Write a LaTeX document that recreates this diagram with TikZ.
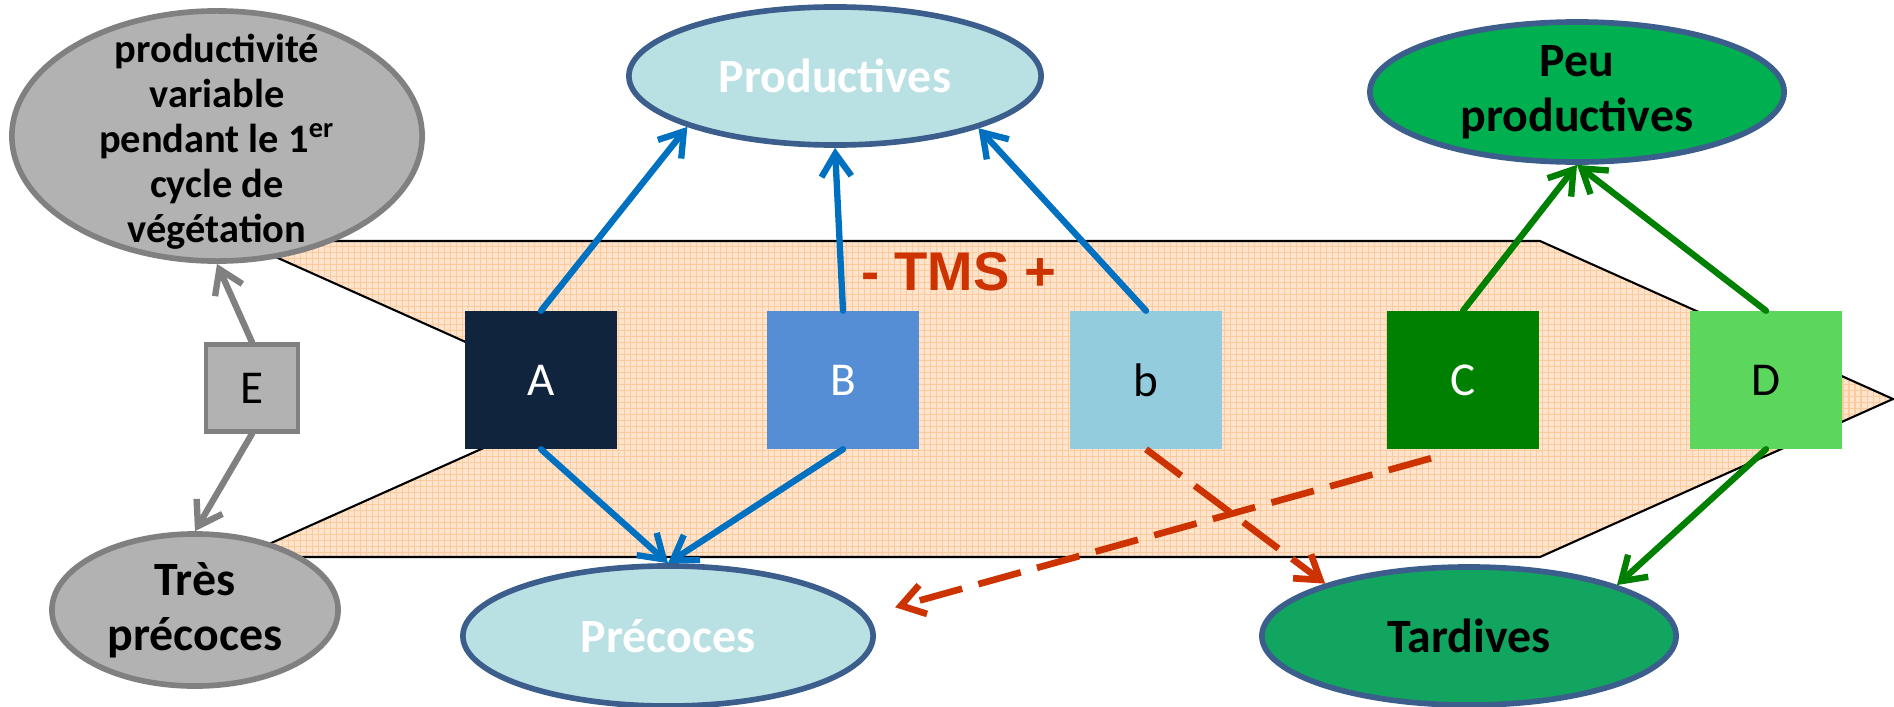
\documentclass[tikz,border=0pt]{standalone}
\usepackage{fontspec}
\setmainfont{Carlito}
\newfontfamily\arialfont{Liberation Sans}
\usetikzlibrary{shapes.geometric,arrows.meta,calc}
\definecolor{navy}{HTML}{11243E}
\definecolor{boxB}{HTML}{558ED5}
\definecolor{boxb}{HTML}{93CDDD}
\definecolor{boxC}{HTML}{008000}
\definecolor{boxD}{HTML}{5CD65C}
\definecolor{greyfill}{HTML}{B2B2B2}
\definecolor{greyline}{HTML}{808080}
\definecolor{lightblue}{HTML}{B9E0E3}
\definecolor{ellborder}{HTML}{3B5E8C}
\definecolor{peugreen}{HTML}{00B050}
\definecolor{tardgreen}{HTML}{12A55F}
\definecolor{arrowblue}{HTML}{0070C0}
\definecolor{arrowgreen}{HTML}{008000}
\definecolor{tmsred}{HTML}{CC3300}
\definecolor{peach}{HTML}{FEE4CD}
\definecolor{peachgrid}{HTML}{FBCB9E}
\tikzset{
  colbox/.style={rectangle, minimum width=1.52cm, minimum height=1.37cm, inner sep=0pt,
    font=\fontsize{13.4}{16}\selectfont},
  ell/.style={ellipse, inner sep=0pt, line width=1.6pt, draw=ellborder},
  ell text/.style={align=center, font=\bfseries\fontsize{13.6}{15.5}\selectfont},
  arr/.style={line width=1.8pt, line cap=round, -{Straight Barb[length=6.5pt,width=8.5pt]}},
  dasharr/.style={arr, line width=1.9pt, dash pattern=on 12.5pt off 4.8pt, line cap=butt},
}
\begin{document}
\begin{tikzpicture}[x=0.01cm,y=-0.01cm]
\useasboundingbox (0,0) rectangle (1894,706);
% chevron band
\begin{scope}
\clip (240,241) -- (1540,241) -- (1893,399) -- (1540,557) -- (240,557) -- (593,399) -- cycle;
\fill[peach] (230,230) rectangle (1894,570);
\draw[peachgrid, line width=0.3pt, step=0.06cm] (230,230) grid (1894,570);
\end{scope}
\draw[line width=0.6pt] (240,241) -- (1540,241) -- (1893,399) -- (1540,557) -- (240,557) -- (593,399) -- cycle;
\node[font=\arialfont\bfseries\fontsize{15.5}{18}\selectfont, text=tmsred] (tms) at (959,272) {- TMS +};
% ellipses
\node[ell, draw=greyline, fill=greyfill, minimum width=4.10cm, minimum height=2.50cm] (G) at (217,136) {};
\node[align=center, font=\bfseries\fontsize{11.5}{12.8}\selectfont] (Gt) at (217,142)
  {productivité\\variable\\pendant le 1\textsuperscript{er}\\cycle de\\végétation};
\node[ell, fill=lightblue, minimum width=4.12cm, minimum height=1.38cm] (P) at (835,76) {};
\node[ell text, text=white] (Pt) at (P) {Productives};
\node[ell, fill=peugreen, minimum width=4.14cm, minimum height=1.40cm] (Q) at (1577,92) {};
\node[ell text] (Qt) at (Q) {Peu\\productives};
\node[ell, draw=greyline, fill=greyfill, minimum width=2.86cm, minimum height=1.52cm] (V) at (195,610) {};
\node[ell text] (Vt) at (V) {Très\\précoces};
\node[ell, fill=lightblue, minimum width=4.10cm, minimum height=1.40cm] (R) at (668,636) {};
\node[ell text, text=white] (Rt) at (R) {Précoces};
\node[ell, fill=tardgreen, minimum width=4.14cm, minimum height=1.38cm] (T) at (1469,636) {};
\node[ell text] (Tt) at (T) {Tardives};
% boxes
\node[colbox, fill=navy, text=white] (A) at (541,380) {A};
\node[colbox, fill=boxB, text=white] (B) at (843,380) {B};
\node[colbox, fill=boxb, text=black] (b) at (1146,380) {b};
\node[colbox, fill=boxC, text=white] (C) at (1463,380) {C};
\node[colbox, fill=boxD, text=black] (D) at (1766,380) {D};
\node[colbox, fill=greyfill, draw=greyline, line width=1.3pt, minimum width=0.92cm, minimum height=0.87cm] (E) at (252,388) {E};
\coordinate (cs) at ($(C.south)+(-32,9)$);
% arrows
\draw[arr, arrowblue] (A.north) -- (P.199.7);
\draw[arr, arrowblue] (B.north) -- (P.south);
\draw[arr, arrowblue] (b.north) -- (P.340.4);
\draw[arr, arrowblue] (A.south) -- (R.north);
\draw[arr, arrowblue] (B.south) -- (R.north);
\draw[arr, arrowgreen] (C.north) -- (Q.south);
\draw[arr, arrowgreen] (D.north) -- (Q.south);
\draw[arr, arrowgreen] (D.south) -- (T.19.6);
\draw[arr, greyline] (E.north) -- (G.south);
\draw[arr, greyline] (E.south) -- (V.north);
\draw[dasharr, tmsred] (b.south) -- (T.160.4);
\draw[dasharr, tmsred, shorten >=0.29cm] (cs) -- (R.6.5);
\end{tikzpicture}
\end{document}
